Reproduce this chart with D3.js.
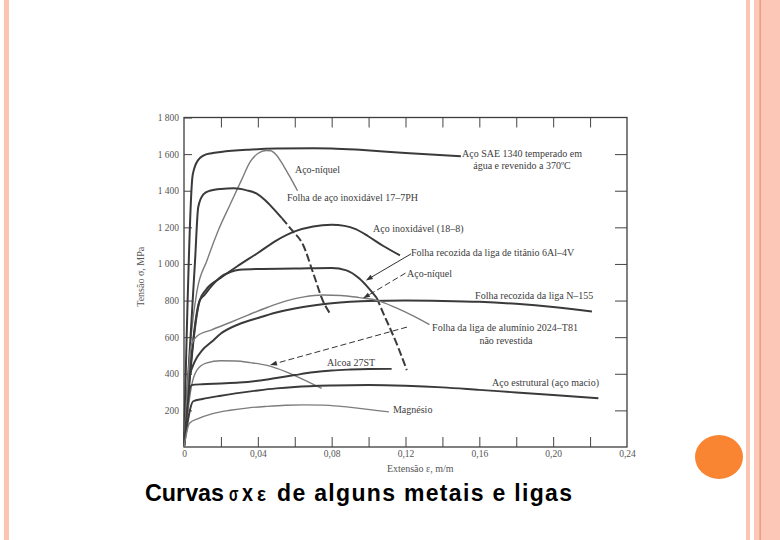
<!DOCTYPE html>
<html><head><meta charset="utf-8">
<script src="https://cdn.jsdelivr.net/npm/d3@7"></script>
<style>body{margin:0;background:#fff}svg{display:block}</style>
</head><body><svg id="c" width="780" height="540"></svg>
<script>
// ---- data (strain m/m, stress MPa) ----
const xTicks = [0, 0.04, 0.08, 0.12, 0.16, 0.20, 0.24];
const xTickLabels = ["0", "0,04", "0,08", "0,12", "0,16", "0,20", "0,24"];
const yTicks = [200, 400, 600, 800, 1000, 1200, 1400, 1600, 1800];
const yTickLabels = ["200", "400", "600", "800", "1 000", "1 200", "1 400", "1 600", "1 800"];

const sae1340 = [[0,0],[0.0045,1470],[0.0055,1520],[0.0075,1565],[0.0105,1592],[0.015,1605],[0.02,1612],[0.035,1624],[0.05,1630],[0.07,1632],[0.08,1631],[0.097,1622],[0.12,1606],[0.15,1588]];
const acoNiquel1 = [[0,0],[0.004,620],[0.007,850],[0.0125,1020],[0.0186,1184],[0.025,1325],[0.031,1455],[0.036,1560],[0.040,1603],[0.0445,1620],[0.047,1618],[0.050,1595],[0.054,1535],[0.058,1465],[0.0615,1400]];
const inox177PH = [[0,0],[0.006,1020],[0.0077,1310],[0.0105,1380],[0.014,1400],[0.02,1410],[0.027,1413],[0.034,1402],[0.0394,1384],[0.044,1348],[0.0484,1302],[0.053,1250],[0.058,1190],[0.0646,1102],[0.07,950],[0.0755,793],[0.0791,729]];
const inox188 = [[0,0],[0.0085,800],[0.012,860],[0.02,925],[0.03,995],[0.04,1060],[0.05,1128],[0.06,1178],[0.07,1205],[0.08,1214],[0.087,1208],[0.093,1190],[0.1,1150],[0.108,1098],[0.117,1047]];
const titanio = [[0,0],[0.0085,800],[0.011,830],[0.015,880],[0.02,930],[0.025,955],[0.03,968],[0.04,973],[0.06,975],[0.08,978],[0.088,965],[0.095,920],[0.1,868],[0.1044,815],[0.108,730],[0.112,640],[0.116,545],[0.1207,420]];
const n155 = [[0,0],[0.003,380],[0.006,470],[0.01,530],[0.015,575],[0.02,620],[0.03,672],[0.04,705],[0.05,735],[0.06,757],[0.07,773],[0.08,785],[0.09,793],[0.10,798],[0.12,800],[0.14,798],[0.16,793],[0.18,782],[0.20,765],[0.221,740]];
const al2024 = [[0,0],[0.004,560],[0.007,605],[0.015,640],[0.025,680],[0.035,722],[0.045,762],[0.055,797],[0.065,820],[0.075,830],[0.085,828],[0.095,816],[0.105,800],[0.115,760],[0.125,712],[0.133,668]];
const ligaGray470 = [[0,0],[0.004,330],[0.007,420],[0.012,458],[0.02,471],[0.028,470],[0.036,461],[0.045,446],[0.055,412],[0.065,367],[0.0746,320]];
const alcoa27ST = [[0,0],[0.004,338],[0.01,343],[0.02,347],[0.03,352],[0.04,362],[0.05,377],[0.06,393],[0.07,408],[0.08,418],[0.09,423],[0.1,426],[0.1125,427]];
const acoEstrutural = [[0,0],[0.005,250],[0.01,262],[0.02,280],[0.03,296],[0.04,309],[0.05,320],[0.06,328],[0.08,336],[0.10,339],[0.12,335],[0.14,326],[0.16,312],[0.18,298],[0.20,284],[0.2245,266]];
const magnesio = [[0,0],[0.003,130],[0.008,156],[0.015,181],[0.025,201],[0.035,214],[0.045,222],[0.055,228],[0.065,230],[0.075,229],[0.085,222],[0.095,211],[0.105,199],[0.111,192]];

// label texts with anchor point in data units
const labelTexts = ["Aço SAE 1340 temperado em","água e revenido a 370ºC","Aço-níquel","Folha de aço inoxidável 17–7PH","Aço inoxidável (18–8)","Folha recozida da liga de titânio 6Al–4V","Aço-níquel","Folha recozida da liga N–155","Folha da liga de alumínio 2024–T81","não revestida","Alcoa 27ST","Aço estrutural (aço macio)","Magnésio"];
const labelX = [0.1831,0.1831,0.0601,0.0558,0.1024,0.1230,0.1208,0.1577,0.1344,0.1744,0.0775,0.1669,0.1132];
const labelY = [1582,1516,1495,1342,1173,1042,927,807,633,562,442,333,185];

// pointer arrows [from, to] in data units
const arrowTitanio = [[0.1230,1055],[0.0985,910]];
const arrowNiquel2 = [[0.1200,950],[0.0970,812]];
const arrowAl2024 = [[0.1208,655],[0.0466,448]];

// ---- drawing ----
const svg = d3.select("#c");
svg.append("rect").attr("width",780).attr("height",540).attr("fill","#fff");
// slide decorations
svg.append("rect").attr("x",4).attr("y",0).attr("width",5).attr("height",540).attr("fill","#fbc4b3");
svg.append("rect").attr("x",746).attr("y",0).attr("width",4).attr("height",540).attr("fill","#fbc4b3");
svg.append("rect").attr("x",754).attr("y",0).attr("width",26).attr("height",540).attr("fill","#fcc7b6");
svg.append("rect").attr("x",759.5).attr("y",0).attr("width",1.3).attr("height",540).attr("fill","#e8967b");
svg.append("ellipse").attr("cx",719).attr("cy",457).attr("rx",24).attr("ry",22).attr("fill","#f98533");

const x = d3.scaleLinear().domain([0,0.24]).range([184,627]);
const y = d3.scaleLinear().domain([0,1800]).range([447,117.5]);

const serif = "'Liberation Serif','DejaVu Serif',serif";
const g = svg.append("g");

// frame
g.append("rect").attr("x",x(0)).attr("y",y(1800)).attr("width",x(0.24)-x(0)).attr("height",y(0)-y(1800))
  .attr("fill","none").attr("stroke","#3d3d3d").attr("stroke-width",1.3);

const minorX = d3.range(1,12).map(i=>i*0.02);
function styleAxis(sel){ sel.select(".domain").remove(); sel.selectAll("line").attr("stroke","#444").attr("stroke-width",1);
  sel.selectAll("text").attr("fill","#555").attr("font-family",serif).attr("font-size",9.5); }
g.append("g").attr("transform",`translate(0,${y(0)})`).call(d3.axisBottom(x).tickValues(minorX).tickSize(-10).tickFormat("")).call(styleAxis);
g.append("g").attr("transform",`translate(0,${y(0)})`).call(d3.axisBottom(x).tickValues(xTicks).tickSize(0).tickPadding(3.5).tickFormat((d,i)=>xTickLabels[i])).call(styleAxis);
g.append("g").attr("transform",`translate(0,${y(1800)})`).call(d3.axisTop(x).tickValues(minorX).tickSize(-10).tickFormat("")).call(styleAxis);
g.append("g").attr("transform",`translate(${x(0)},0)`).call(d3.axisLeft(y).tickValues(yTicks).tickSize(-8).tickPadding(5).tickFormat((d,i)=>yTickLabels[i])).call(styleAxis);
g.append("g").attr("transform",`translate(${x(0.24)},0)`).call(d3.axisRight(y).tickValues(yTicks.slice(0,-1)).tickSize(-12).tickFormat("")).call(styleAxis);

// axis titles
g.append("text").attr("x",x(0.128)).attr("y",472).attr("text-anchor","middle").attr("font-family",serif).attr("font-size",10).attr("fill","#555").text("Extensão ε, m/m");
g.append("text").attr("transform",`translate(144,${y(930)}) rotate(-90)`).attr("text-anchor","middle").attr("font-family",serif).attr("font-size",10).attr("fill","#555").text("Tensão σ, MPa");

// curves
const dark = "#3a3a3a", gray = "#7c7c7c";
const series = [
  {d: sae1340, c: dark, w: 2},
  {d: acoNiquel1, c: gray, w: 1.4},
  {d: inox177PH, c: dark, w: 2, dashAfter: 0.053},
  {d: inox188, c: dark, w: 2},
  {d: titanio, c: dark, w: 2, dashAfter: 0.1044},
  {d: n155, c: dark, w: 2},
  {d: al2024, c: gray, w: 1.4},
  {d: ligaGray470, c: gray, w: 1.4},
  {d: alcoa27ST, c: dark, w: 1.9},
  {d: acoEstrutural, c: dark, w: 1.9},
  {d: magnesio, c: gray, w: 1.4}
];
const line = d3.line().x(p=>x(p[0])).y(p=>y(p[1])).curve(d3.curveMonotoneX);
series.forEach(s=>{
  if (s.dashAfter === undefined) {
    g.append("path").attr("d",line(s.d)).attr("fill","none").attr("stroke",s.c).attr("stroke-width",s.w).attr("stroke-linejoin","round");
  } else {
    const a = s.d.filter(p=>p[0]<=s.dashAfter), b = s.d.filter(p=>p[0]>=s.dashAfter);
    g.append("path").attr("d",line(a)).attr("fill","none").attr("stroke",s.c).attr("stroke-width",s.w);
    g.append("path").attr("d",line(b)).attr("fill","none").attr("stroke",s.c).attr("stroke-width",s.w).attr("stroke-dasharray","8 3");
  }
});

// arrows
function arrow(pts, dashed){
  const x1=x(pts[0][0]), y1=y(pts[0][1]), x2=x(pts[1][0]), y2=y(pts[1][1]);
  const ang=Math.atan2(y2-y1,x2-x1), L=7, H=2.4;
  const bx=x2-L*Math.cos(ang), by=y2-L*Math.sin(ang);
  g.append("line").attr("x1",x1).attr("y1",y1).attr("x2",bx).attr("y2",by).attr("stroke","#333").attr("stroke-width",1)
    .attr("stroke-dasharray",dashed?"6 3":null);
  g.append("path").attr("d",`M${x2},${y2}L${bx+H*Math.sin(ang)},${by-H*Math.cos(ang)}L${bx-H*Math.sin(ang)},${by+H*Math.cos(ang)}Z`).attr("fill","#333");
}
arrow(arrowTitanio,false);
arrow(arrowNiquel2,true);
arrow(arrowAl2024,true);

// labels
const centered = new Set([0,1,9]);
labelTexts.forEach((t,i)=>{
  g.append("text").attr("x",x(labelX[i])).attr("y",y(labelY[i])).attr("text-anchor",centered.has(i)?"middle":"start")
   .attr("font-family",serif).attr("font-size",10).attr("fill","#3c3c3c").text(t);
});

// caption
const sans = "'Liberation Sans',Arial,sans-serif";
const cap = svg.append("g").attr("font-family",sans).attr("font-weight","bold").attr("fill","#000");
cap.append("text").attr("x",145).attr("y",501).attr("font-size",23).attr("textLength",79).attr("lengthAdjust","spacingAndGlyphs").text("Curvas");
cap.append("text").attr("x",229).attr("y",501).attr("font-size",21).attr("textLength",9.5).attr("lengthAdjust","spacingAndGlyphs").text("σ");
cap.append("text").attr("x",242).attr("y",501).attr("font-size",23).attr("textLength",11).attr("lengthAdjust","spacingAndGlyphs").text("x");
cap.append("text").attr("x",257).attr("y",501).attr("font-size",21).attr("textLength",9).attr("lengthAdjust","spacingAndGlyphs").text("ε");
cap.append("text").attr("x",277).attr("y",501).attr("font-size",23).attr("textLength",295).attr("lengthAdjust","spacing").text("de alguns metais e ligas");
</script></body></html>
